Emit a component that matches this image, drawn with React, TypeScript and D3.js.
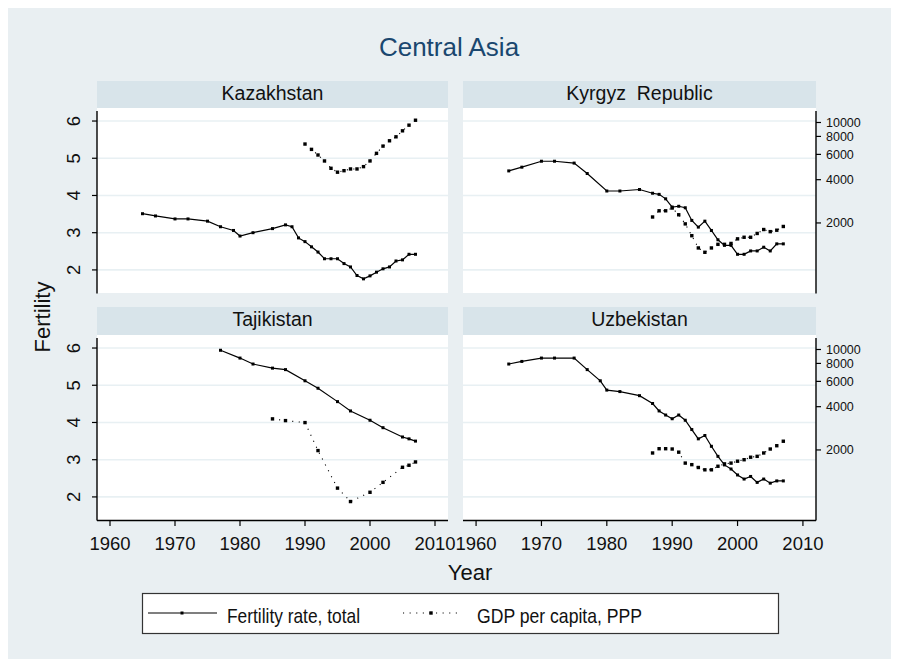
import React from 'react';
import * as d3 from 'd3';

type Pt = [number, number];

// panel titles (two spaces in Kyrgyz as in the original)
const countries = ['Kazakhstan', 'Kyrgyz  Republic', 'Tajikistan', 'Uzbekistan'];

// fertility rate, births per woman [year, value]
const kazFert: Pt[] = [[1965, 3.51], [1967, 3.45], [1970, 3.37], [1972, 3.37], [1975, 3.31], [1977, 3.16], [1979, 3.06], [1980, 2.91], [1982, 3.0], [1985, 3.11], [1987, 3.21], [1988, 3.16], [1989, 2.86], [1990, 2.76], [1991, 2.62], [1992, 2.48], [1993, 2.3], [1994, 2.3], [1995, 2.3], [1996, 2.17], [1997, 2.08], [1998, 1.85], [1999, 1.76], [2000, 1.84], [2001, 1.94], [2002, 2.03], [2003, 2.08], [2004, 2.24], [2005, 2.27], [2006, 2.42], [2007, 2.42]];
const kgzFert: Pt[] = [[1965, 4.66], [1967, 4.76], [1970, 4.92], [1972, 4.92], [1975, 4.87], [1977, 4.59], [1980, 4.12], [1982, 4.12], [1985, 4.16], [1987, 4.06], [1988, 4.03], [1989, 3.91], [1990, 3.69], [1991, 3.71], [1992, 3.67], [1993, 3.33], [1994, 3.15], [1995, 3.31], [1996, 3.06], [1997, 2.81], [1998, 2.66], [1999, 2.66], [2000, 2.42], [2001, 2.42], [2002, 2.51], [2003, 2.51], [2004, 2.61], [2005, 2.51], [2006, 2.7], [2007, 2.7]];
const tjkFert: Pt[] = [[1977, 5.94], [1980, 5.73], [1982, 5.57], [1985, 5.46], [1987, 5.42], [1990, 5.12], [1992, 4.92], [1995, 4.56], [1997, 4.31], [2000, 4.06], [2002, 3.86], [2005, 3.61], [2006, 3.56], [2007, 3.5]];
const uzbFert: Pt[] = [[1965, 5.57], [1967, 5.64], [1970, 5.73], [1972, 5.73], [1975, 5.73], [1977, 5.42], [1979, 5.12], [1980, 4.87], [1982, 4.83], [1985, 4.72], [1987, 4.51], [1988, 4.31], [1989, 4.2], [1990, 4.1], [1991, 4.2], [1992, 4.06], [1993, 3.81], [1994, 3.56], [1995, 3.65], [1996, 3.36], [1997, 3.09], [1998, 2.86], [1999, 2.75], [2000, 2.59], [2001, 2.48], [2002, 2.55], [2003, 2.39], [2004, 2.48], [2005, 2.37], [2006, 2.43], [2007, 2.43]];

// GDP per capita, PPP [year, value]
const kazGdp: Pt[] = [[1990, 7080], [1991, 6500], [1992, 5940], [1993, 5400], [1994, 4800], [1995, 4510], [1996, 4620], [1997, 4750], [1998, 4750], [1999, 4930], [2000, 5400], [2001, 6100], [2002, 6850], [2003, 7460], [2004, 7950], [2005, 8750], [2006, 9580], [2007, 10370]];
const kgzGdp: Pt[] = [[1987, 2200], [1988, 2430], [1989, 2430], [1990, 2540], [1991, 2280], [1992, 1970], [1993, 1630], [1994, 1340], [1995, 1250], [1996, 1340], [1997, 1420], [1998, 1420], [1999, 1440], [2000, 1550], [2001, 1590], [2002, 1590], [2003, 1690], [2004, 1800], [2005, 1740], [2006, 1780], [2007, 1890]];
const tjkGdp: Pt[] = [[1985, 3290], [1987, 3200], [1990, 3100], [1992, 1980], [1995, 1085], [1997, 875], [2000, 1015], [2002, 1190], [2005, 1515], [2006, 1565], [2007, 1650]];
const uzbGdp: Pt[] = [[1987, 1905], [1988, 2040], [1989, 2040], [1990, 2030], [1991, 1930], [1992, 1620], [1993, 1580], [1994, 1510], [1995, 1455], [1996, 1455], [1997, 1540], [1998, 1600], [1999, 1620], [2000, 1670], [2001, 1710], [2002, 1780], [2003, 1805], [2004, 1905], [2005, 2030], [2006, 2140], [2007, 2300]];

const fertSeries = [kazFert, kgzFert, tjkFert, uzbFert];
const gdpSeries = [kazGdp, kgzGdp, tjkGdp, uzbGdp];

const yearTicks = [1960, 1970, 1980, 1990, 2000, 2010];
const fertTicks = [2, 3, 4, 5, 6];
const gdpTicks = [2000, 4000, 6000, 8000, 10000];
const legendLabels = ['Fertility rate, total', 'GDP per capita, PPP'];

const BG = '#e9eff2';
const STRIP = '#d8e4ea';
const GRID = '#e8f0f3';
const FONT = 'Arial, "Liberation Sans", Helvetica, sans-serif';
const DOTS = '1.1 5.5';

const colX = [97, 463];
const colW = [351, 353];
const headerTop = [81, 307];
const plotTop = [108, 335];
const plotH = 185;

const Panel: React.FC<{ i: number }> = ({ i }) => {
  const col = i % 2;
  const row = Math.floor(i / 2);
  const x0 = colX[col];
  const w = colW[col];
  const top = plotTop[row];
  const bottom = top + plotH;

  const x = d3.scaleLinear().domain([1958, 2012]).range([x0, x0 + w]);
  const yF = d3.scaleLinear().domain([1.38, 6.35]).range([bottom, top]);
  const yG = d3.scaleLog().domain([651, 12614]).range([bottom, top]);

  const fertLine = d3.line<Pt>().x(d => x(d[0])).y(d => yF(d[1]));
  const gdpLine = d3.line<Pt>().x(d => x(d[0])).y(d => yG(d[1]));

  return (
    <g>
      <rect x={x0} y={headerTop[row]} width={w} height={top - headerTop[row]} fill={STRIP} />
      <text x={x0 + w / 2} y={headerTop[row] + 18.5} textAnchor="middle" fontSize={19.5} fill="#111" style={{ whiteSpace: 'pre' }}>
        {countries[i]}
      </text>
      <rect x={x0} y={top} width={w} height={plotH} fill="#fff" />
      {fertTicks.map(t => (
        <line key={t} x1={x0} x2={x0 + w} y1={yF(t)} y2={yF(t)} stroke={GRID} strokeWidth={1.6} />
      ))}

      <path d={fertLine(fertSeries[i]) || ''} fill="none" stroke="#000" strokeWidth={1.2} />
      {fertSeries[i].map(d => (
        <rect key={'f' + d[0]} x={x(d[0]) - 1.5} y={yF(d[1]) - 1.5} width={3} height={3} fill="#000" />
      ))}
      <path d={gdpLine(gdpSeries[i]) || ''} fill="none" stroke="#000" strokeWidth={1.1} strokeDasharray={DOTS} />
      {gdpSeries[i].map(d => (
        <rect key={'g' + d[0]} x={x(d[0]) - 1.7} y={yG(d[1]) - 1.7} width={3.4} height={3.4} fill="#000" />
      ))}

      {col === 0 && (
        <g>
          <line x1={x0} x2={x0} y1={top + 3} y2={bottom + 0.5} stroke="#000" strokeWidth={1.4} />
          {fertTicks.map(t => (
            <g key={t}>
              <line x1={x0 - 5} x2={x0} y1={yF(t)} y2={yF(t)} stroke="#000" strokeWidth={1.2} />
              <text transform={`translate(80,${yF(t)}) rotate(-90)`} textAnchor="middle" fontSize={18.5} fill="#111">{t}</text>
            </g>
          ))}
        </g>
      )}
      {col === 1 && (
        <g>
          <line x1={x0 + w} x2={x0 + w} y1={top + 3} y2={bottom + 0.5} stroke="#000" strokeWidth={1.4} />
          {gdpTicks.map(t => (
            <g key={t}>
              <line x1={x0 + w} x2={x0 + w + 5} y1={yG(t)} y2={yG(t)} stroke="#000" strokeWidth={1.2} />
              <text x={x0 + w + 10} y={yG(t) + 4.5} fontSize={12.5} fill="#111">{t}</text>
            </g>
          ))}
        </g>
      )}
      {row === 1 && (
        <g>
          <line x1={x0} x2={x0 + w} y1={bottom + 0.5} y2={bottom + 0.5} stroke="#000" strokeWidth={1.4} />
          {yearTicks.map(t => (
            <g key={t}>
              <line x1={x(t)} x2={x(t)} y1={bottom} y2={bottom + 6} stroke="#000" strokeWidth={1.2} />
              <text x={x(t)} y={bottom + 30} textAnchor="middle" fontSize={18.5} fill="#111">{t}</text>
            </g>
          ))}
        </g>
      )}
    </g>
  );
};

export default function App() {
  return (
    <svg width={883} height={651} style={{ display: 'block' }} fontFamily={FONT}>
      <g transform="translate(-8,-8)">
        <rect x={8} y={8} width={883} height={651} fill={BG} />
        <text x={449} y={56} textAnchor="middle" fontSize={26} fill="#1a476f">Central Asia</text>
        {countries.map((c, i) => <Panel key={c} i={i} />)}
        <text transform="translate(50,317) rotate(-90)" textAnchor="middle" fontSize={22} fill="#111">Fertility</text>
        <text x={470} y={580} textAnchor="middle" fontSize={22} fill="#111">Year</text>

        <rect x={142.5} y={593.5} width={636} height={40} fill="#fff" stroke="#333" strokeWidth={1.2} />
        <line x1={148} x2={217} y1={613} y2={613} stroke="#000" strokeWidth={1.2} />
        <rect x={180.5} y={611.5} width={3} height={3} fill="#000" />
        <text x={227} y={623} fontSize={21} fill="#111" textLength={133} lengthAdjust="spacingAndGlyphs"
          fontFamily='"Liberation Sans Narrow", Arial, sans-serif'>{legendLabels[0]}</text>
        <line x1={403} x2={458} y1={613} y2={613} stroke="#000" strokeWidth={1.1} strokeDasharray={DOTS} />
        <rect x={429.3} y={611.3} width={3.4} height={3.4} fill="#000" />
        <text x={477} y={623} fontSize={21} fill="#111" textLength={165} lengthAdjust="spacingAndGlyphs"
          fontFamily='"Liberation Sans Narrow", Arial, sans-serif'>{legendLabels[1]}</text>
      </g>
    </svg>
  );
}
